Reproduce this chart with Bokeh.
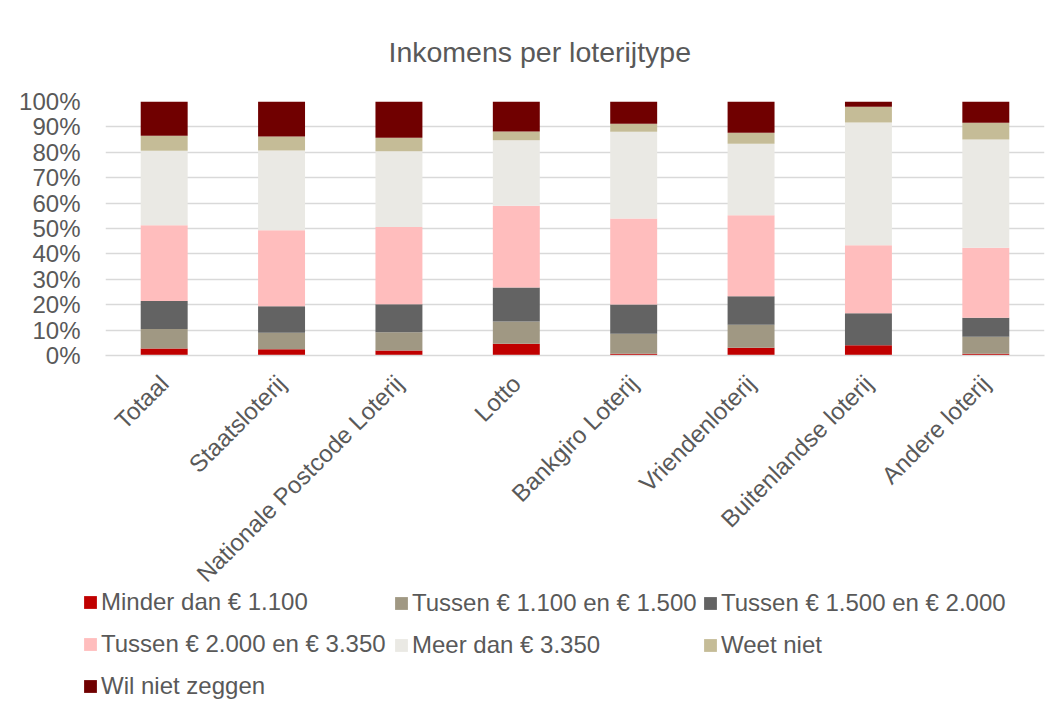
from math import pi
from bokeh.plotting import figure
from bokeh.layouts import column
from bokeh.models import (ColumnDataSource, FactorRange, Legend, LegendItem,
                          FixedTicker, PrintfTickFormatter, Title)
from bokeh.embed import file_html
from bokeh.resources import INLINE

categories = ["Totaal", "Staatsloterij", "Nationale Postcode Loterij", "Lotto",
              "Bankgiro Loterij", "Vriendenloterij", "Buitenlandse loterij",
              "Andere loterij"]

series_labels = ["Minder dan € 1.100", "Tussen € 1.100 en € 1.500",
                 "Tussen € 1.500 en € 2.000", "Tussen € 2.000 en € 3.350",
                 "Meer dan € 3.350", "Weet niet", "Wil niet zeggen"]

minder_1100 = [2.8, 2.5, 2.0, 4.6, 0.7, 3.1, 4.0, 0.7]
tussen_1100_1500 = [7.6, 6.5, 7.2, 8.8, 7.9, 9.0, 0.0, 6.7]
tussen_1500_2000 = [11.1, 10.4, 11.0, 13.4, 11.5, 11.2, 12.6, 7.5]
tussen_2000_3350 = [29.8, 29.9, 30.4, 32.2, 33.8, 31.9, 26.8, 27.5]
meer_3350 = [29.3, 31.4, 29.8, 25.7, 34.2, 28.2, 48.3, 42.6]
weet_niet = [5.9, 5.5, 5.3, 3.5, 3.1, 4.3, 6.2, 6.6]
wil_niet_zeggen = [13.5, 13.8, 14.3, 11.8, 8.8, 12.3, 2.1, 8.4]

y_ticks = [0, 10, 20, 30, 40, 50, 60, 70, 80, 90, 100]

colors = ["#C00000", "#A09883", "#636363", "#FFBDBD", "#EAE9E4", "#C5BC97", "#700000"]
TEXT = "#595959"
FONT = "Liberation Sans"

keys = ["s0", "s1", "s2", "s3", "s4", "s5", "s6"]
source = ColumnDataSource(data=dict(
    cat=categories,
    s0=minder_1100, s1=tussen_1100_1500, s2=tussen_1500_2000,
    s3=tussen_2000_3350, s4=meer_3350, s5=weet_niet, s6=wil_niet_zeggen))

W = 1051
MAIN_H = 600
LEG_H = 117
OVERLAP = 12

p = figure(x_range=FactorRange(*categories), y_range=(0, 100),
           width=W, height=MAIN_H, output_backend="svg", toolbar_location=None,
           min_border_left=105, min_border_right=7, min_border_top=101,
           min_border_bottom=MAIN_H - 355)
p.frame_align = False

p.vbar_stack(keys, x="cat", width=0.4, color=colors, source=source, line_color=None)

p.title = Title(text="Inkomens per loterijtype", align="left",
                text_font=FONT, text_font_size="28.5px", text_font_style="normal",
                text_color=TEXT, standoff=67, offset=283)

p.outline_line_color = None
p.background_fill_color = "white"
p.border_fill_color = "white"

p.xgrid.visible = False
p.ygrid.ticker = FixedTicker(ticks=y_ticks)
p.ygrid.grid_line_color = "#d9d9d9"
p.ygrid.grid_line_width = 1.5

p.yaxis.ticker = FixedTicker(ticks=y_ticks)
p.yaxis.formatter = PrintfTickFormatter(format="%d%%")
p.yaxis.axis_line_color = None
p.yaxis.major_tick_line_color = None
p.yaxis.minor_tick_line_color = None
p.yaxis.major_label_standoff = 19
p.yaxis.major_label_text_font = FONT
p.yaxis.major_label_text_font_size = "24px"
p.yaxis.major_label_text_color = TEXT

p.xaxis.axis_line_color = "#d9d9d9"
p.xaxis.axis_line_width = 1.5
p.xaxis.major_tick_line_color = None
p.xaxis.minor_tick_line_color = None
p.xaxis.major_label_orientation = pi / 4
p.xaxis.major_label_standoff = 18
p.xaxis.major_label_text_font = FONT
p.xaxis.major_label_text_font_size = "24px"
p.xaxis.major_label_text_color = TEXT

# legend figure below the chart (transparent, slightly overlapping the axis area)
lf = figure(width=W, height=LEG_H, output_backend="svg", toolbar_location=None,
            x_axis_type=None, y_axis_type=None, x_range=(0, 1), y_range=(0, 1),
            min_border=0, min_border_left=0, min_border_right=0,
            min_border_top=0, min_border_bottom=0)
lf.frame_align = False
lf.margin = (-OVERLAP, 0, 0, 0)
lf.outline_line_color = None
lf.grid.visible = False
lf.background_fill_alpha = 0
lf.border_fill_alpha = 0

# legend swatches: off-range markers that only feed the legend
swatches = [lf.vbar(x=[-10], top=[-10], bottom=[-11], width=0.1,
                    fill_color=c, line_color=None) for c in colors]

ITEM_H = 27
SP = 14
col_specs = [([0, 3, 6], 82), ([1, 4], 393), ([2, 5], 702)]
for idxs, vx in col_specs:
    n = len(idxs)
    h = n * ITEM_H + (n - 1) * SP
    items = [LegendItem(label=series_labels[i], renderers=[swatches[i]]) for i in idxs]
    leg = Legend(items=items, location=(vx, LEG_H - 3 - h), orientation="vertical",
                 glyph_width=16, glyph_height=16, label_standoff=3,
                 label_text_font=FONT, label_text_font_size="24px",
                 label_text_color=TEXT, label_height=ITEM_H, spacing=SP,
                 padding=0, margin=0, border_line_color=None,
                 background_fill_alpha=0)
    lf.add_layout(leg, "center")

layout = column(p, lf, spacing=0)

open("out.html", "w").write(file_html(layout, INLINE))
